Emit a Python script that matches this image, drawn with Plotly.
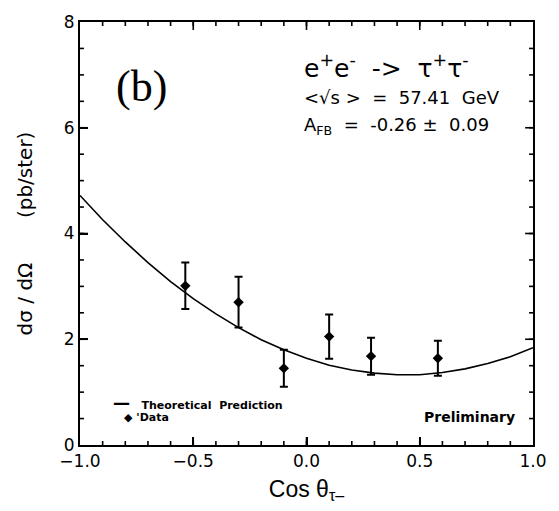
import plotly.graph_objects as go

# Data points
cos_data = [-0.535, -0.30, -0.10, 0.10, 0.285, 0.58]
xsec_data = [3.01, 2.70, 1.45, 2.05, 1.68, 1.64]
xsec_err = [0.44, 0.48, 0.35, 0.42, 0.35, 0.33]

# Theoretical prediction curve
cos_theory = [-1.0, -0.9, -0.8, -0.7, -0.6, -0.5, -0.4, -0.3, -0.2, -0.1, 0.0,
              0.1, 0.2, 0.3, 0.4, 0.5, 0.6, 0.7, 0.8, 0.9, 1.0]
xsec_theory = [4.72, 4.26, 3.84, 3.45, 3.09, 2.77, 2.48, 2.22, 1.99, 1.80, 1.64,
               1.51, 1.42, 1.36, 1.33, 1.33, 1.37, 1.44, 1.54, 1.67, 1.84]

x_range = [-1.0, 1.0]
y_range = [0, 8]
x_major = [-0.5, 0.0, 0.5]
x_minor = [round(-1 + 0.1 * i, 2) for i in range(1, 20)]
y_major = [2, 4, 6]
y_minor = [0.5 * i for i in range(1, 16)]

fig = go.Figure()
fig.add_trace(go.Scatter(x=cos_theory, y=xsec_theory, mode="lines",
                         line=dict(color="black", width=1.6), showlegend=False))
fig.add_trace(go.Scatter(x=cos_data, y=xsec_data, mode="markers",
                         marker=dict(symbol="diamond", size=8, color="black"),
                         error_y=dict(type="data", array=xsec_err, color="black",
                                      thickness=2, width=4),
                         showlegend=False))

sans = "DejaVu Sans, Liberation Sans, Arial"
clear = "rgba(0,0,0,0)"
axis_common = dict(showline=True, linecolor="black", linewidth=2, mirror=True,
                   ticks="inside", tickcolor="black", tickwidth=2, ticklen=8,
                   gridcolor=clear, zerolinecolor=clear,
                   tickfont=dict(family=sans, size=17, color="black"))

fig.update_layout(
    xaxis=dict(range=x_range, tickmode="linear", tick0=-1, dtick=0.5, tickformat=".1f",
               title=dict(text="Cos θ<sub>τ–</sub>", standoff=10,
                          font=dict(family="Liberation Sans, Arial", size=23, color="black")),
               **axis_common),
    yaxis=dict(range=y_range, tickmode="linear", tick0=0, dtick=2,
               title=dict(text="dσ / dΩ       (pb/ster)", standoff=26,
                          font=dict(family=sans, size=20, color="black")),
               **axis_common),
)

# tick marks drawn inside on all four sides (axis decoration)
plot_w, plot_h = 460.0, 425.0
shapes = []
for vals, length in ((x_major, 8), (x_minor, 4)):
    f = length / plot_h
    for v in vals:
        for y0, y1 in ((0, f), (1, 1 - f)):
            shapes.append(dict(type="line", xref="x", yref="paper", x0=v, x1=v, y0=y0, y1=y1,
                               line=dict(color="black", width=1.6), layer="above"))
for vals, length in ((y_major, 8), (y_minor, 4)):
    f = length / plot_w
    for v in vals:
        for x0, x1 in ((0, f), (1, 1 - f)):
            shapes.append(dict(type="line", xref="paper", yref="y", x0=x0, x1=x1, y0=v, y1=v,
                               line=dict(color="black", width=1.6), layer="above"))
fig.update_layout(shapes=shapes)

ann = [
    dict(x=0.075, y=0.847, text="(b)", font=dict(family="Liberation Serif, Times New Roman", size=44)),
    dict(x=0.49, y=0.894, text="e<sup>+</sup>e<sup>-</sup>  ->  τ<sup>+</sup>τ<sup>-</sup>", font=dict(family=sans, size=25)),
    dict(x=0.49, y=0.821, text="<√s >  =  57.41  GeV", font=dict(family=sans, size=18)),
    dict(x=0.49, y=0.753, text="A<sub>FB</sub>  =  -0.26 ±  0.09", font=dict(family=sans, size=18)),
    dict(x=0.068, y=0.099, text="<b><span style=\"font-size:17px\">—</span>   Theoretical  Prediction</b>", font=dict(family=sans, size=11)),
    dict(x=0.092, y=0.064, text="<b>◆ 'Data</b>", font=dict(family=sans, size=11)),
    dict(x=0.755, y=0.066, text="<b>Preliminary</b>", font=dict(family=sans, size=14)),
]
for a in ann:
    a.update(xref="paper", yref="paper", xanchor="left", yanchor="middle", showarrow=False)
    a["font"]["color"] = "black"
fig.update_layout(annotations=ann)

fig.update_layout(width=559, height=511, margin=dict(l=80, r=19, t=20, b=66),
                  paper_bgcolor="white", plot_bgcolor="white")

fig.write_html("out.html")
